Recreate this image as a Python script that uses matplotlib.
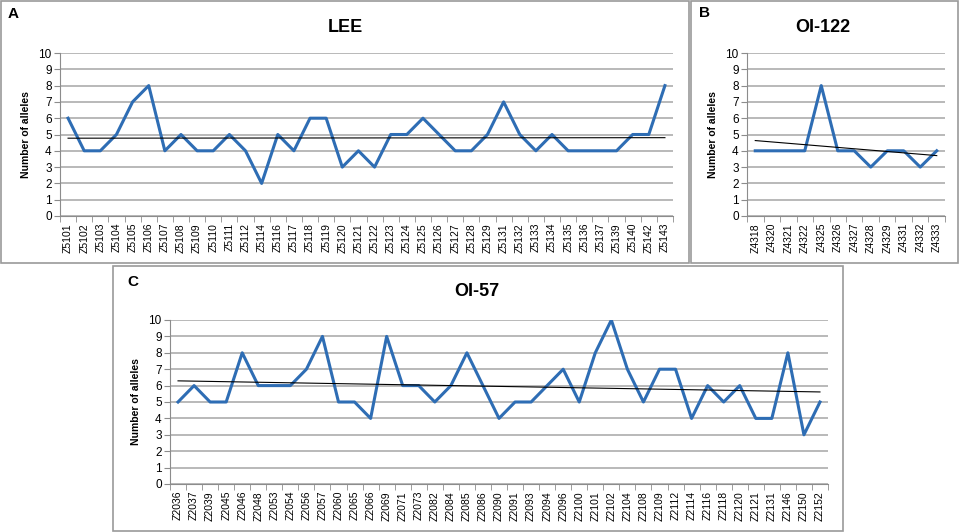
import numpy as np
import matplotlib.pyplot as plt
from matplotlib.patches import Rectangle

plt.rcParams['font.family'] = ['Liberation Sans', 'DejaVu Sans']

lee_markers = ["Z5101", "Z5102", "Z5103", "Z5104", "Z5105", "Z5106", "Z5107", "Z5108",
               "Z5109", "Z5110", "Z5111", "Z5112", "Z5114", "Z5116", "Z5117", "Z5118",
               "Z5119", "Z5120", "Z5121", "Z5122", "Z5123", "Z5124", "Z5125", "Z5126",
               "Z5127", "Z5128", "Z5129", "Z5131", "Z5132", "Z5133", "Z5134", "Z5135",
               "Z5136", "Z5137", "Z5139", "Z5140", "Z5142", "Z5143"]
lee_alleles = [6, 4, 4, 5, 7, 8, 4, 5, 4, 4, 5, 4, 2, 5, 4, 6, 6, 3, 4, 3, 5, 5, 6, 5,
               4, 4, 5, 7, 5, 4, 5, 4, 4, 4, 4, 5, 5, 8]

oi122_markers = ["Z4318", "Z4320", "Z4321", "Z4322", "Z4325", "Z4326", "Z4327", "Z4328",
                 "Z4329", "Z4331", "Z4332", "Z4333"]
oi122_alleles = [4, 4, 4, 4, 8, 4, 4, 3, 4, 4, 3, 4]

oi57_markers = ["Z2036", "Z2037", "Z2039", "Z2045", "Z2046", "Z2048", "Z2053", "Z2054",
                "Z2056", "Z2057", "Z2060", "Z2065", "Z2066", "Z2069", "Z2071", "Z2073",
                "Z2082", "Z2084", "Z2085", "Z2086", "Z2090", "Z2091", "Z2093", "Z2094",
                "Z2096", "Z2100", "Z2101", "Z2102", "Z2104", "Z2108", "Z2109", "Z2112",
                "Z2114", "Z2116", "Z2118", "Z2120", "Z2121", "Z2131", "Z2146", "Z2150",
                "Z2152"]
oi57_alleles = [5, 6, 5, 5, 8, 6, 6, 6, 7, 9, 5, 5, 4, 9, 6, 6, 5, 6, 8, 6, 4, 5, 5, 6,
                7, 5, 8, 10, 7, 5, 7, 7, 4, 6, 5, 6, 4, 4, 8, 3, 5]

W, H = 961, 532
fig = plt.figure(figsize=(W / 100, H / 100), dpi=100)


def px_axes(left, top, right, bottom):
    return fig.add_axes([left / W, 1 - bottom / H, (right - left) / W, (bottom - top) / H])


def px_text(x, y, s, **kw):
    fig.text(x / W, 1 - y / H, s, ha='center', va='center', **kw)


def box(x0, y0, x1, y1):
    fig.patches.append(Rectangle((x0 / W, 1 - y1 / H), (x1 - x0) / W, (y1 - y0) / H,
                                 transform=fig.transFigure, fill=False,
                                 edgecolor='#9a9a9a', lw=1.2))


def panel(ax, markers, values):
    n = len(markers)
    x = np.arange(n)
    ax.plot(x, values, color='#2e6db4', lw=2.2, zorder=3)
    k, b = np.polyfit(x, values, 1)
    ax.plot(x, k * x + b, color='black', lw=0.8, zorder=4)
    ax.set_xlim(-0.5, n - 0.5)
    ax.set_ylim(0, 10)
    ax.set_yticks(range(11))
    ax.set_xticks(x)
    ax.set_xticklabels(markers, rotation=90, fontsize=7.5)
    ax.set_xticks(np.arange(n + 1) - 0.5, minor=True)
    ax.tick_params(axis='x', which='major', length=0, pad=5)
    ax.tick_params(axis='x', which='minor', length=4, color='#8c8c8c', direction='out')
    ax.tick_params(axis='y', length=4, color='#8c8c8c', labelsize=8.5, pad=2)
    ax.yaxis.grid(True, color='#a6a6a6', lw=1.1)
    ax.set_axisbelow(True)
    for s in ['top', 'right']:
        ax.spines[s].set_visible(False)
    for s in ['left', 'bottom']:
        ax.spines[s].set_color('#8c8c8c')
    ax.set_ylabel('Number of alleles', fontsize=7.5, fontweight='bold', labelpad=5)


box(1, 1, 689, 263)
box(691, 1, 958, 263)
box(113, 266, 843, 531)

ax_a = px_axes(60, 53, 673, 216)
panel(ax_a, lee_markers, lee_alleles)
ax_b = px_axes(747, 53, 945, 216)
panel(ax_b, oi122_markers, oi122_alleles)
ax_c = px_axes(170, 320, 828, 484)
panel(ax_c, oi57_markers, oi57_alleles)

px_text(345, 27, 'LEE', fontsize=13, fontweight='bold')
px_text(823, 27, 'OI-122', fontsize=13, fontweight='bold')
px_text(477, 292, 'OI-57', fontsize=13, fontweight='bold')
px_text(13, 14, 'A', fontsize=11, fontweight='bold')
px_text(705, 13, 'B', fontsize=11, fontweight='bold')
px_text(133, 282, 'C', fontsize=11, fontweight='bold')

fig.savefig('out.png', dpi=100)
